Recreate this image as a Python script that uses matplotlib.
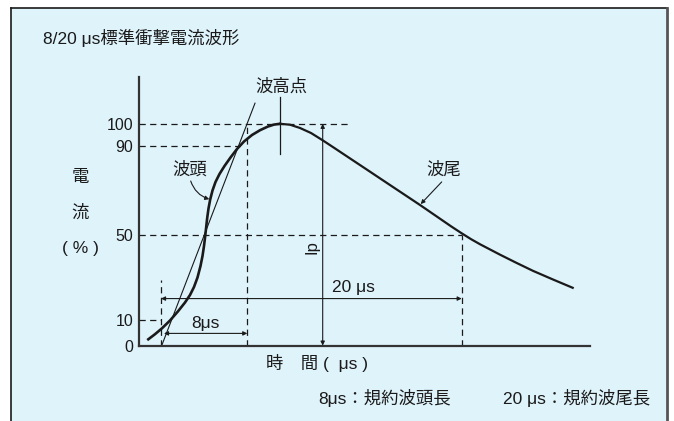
import matplotlib
matplotlib.use("Agg")
import matplotlib.pyplot as plt
from matplotlib.patches import Rectangle
from matplotlib.lines import Line2D

plt.rcParams['font.family'] = ['Liberation Sans', 'Noto Sans CJK JP', 'DejaVu Sans']

# waveform (schematic, time in arbitrary units, current in %)
# front: start -> peak
t_front_wave = [0.93, 1.6, 2.3, 3.1, 3.9, 4.6, 5.1, 5.5, 5.85, 6.15, 6.35, 6.5, 6.62, 6.72,
                6.82, 6.95, 7.12, 7.35, 7.65, 8.05, 8.55, 9.15, 9.8, 10.5, 11.3, 12.1,
                12.9, 13.5, 14.1]
i_front_wave = [2.84, 5.14, 7.80, 11.32, 15.46, 19.43, 22.81, 26.42, 30.70, 35.89, 40.40,
                44.90, 49.41, 53.47, 57.53, 61.81, 65.87, 69.93, 73.76, 77.37, 80.97,
                84.81, 88.64, 92.02, 94.95, 97.11, 98.78, 99.64, 100.0]
# tail: peak -> end
t_tail_wave = [14.1, 15.1, 16.1, 17.2, 18.37, 19.6, 21.1, 22.77, 24.6, 26.4, 28.1, 30.2,
               31.2, 32.27, 33.2, 34.1, 36.1, 37.7, 39.4, 41.4, 43.37]
i_tail_wave = [100.0, 99.59, 98.11, 95.85, 92.56, 88.9, 84.4, 79.4, 73.9, 68.5, 63.4, 56.9,
               53.8, 50.63, 48.0, 45.7, 41.0, 37.4, 33.7, 29.8, 26.06]

# front tangent (virtual origin -> past 100 %)
t_tangent = [2.27, 11.6]
i_tangent = [0, 109.3]

# key times / levels
t_origin = 2.2      # virtual origin O1
t_front = 10.83     # 8 us point
t_tail = 32.27      # 20 us point (half value)
t_peak = 14.1
t_ip = 18.37
level_10 = 11.5     # drawn position of the 10 % level
y_ticks = [0, level_10, 50, 90, 100]
y_labels = ["0", "10", "50", "90", "100"]

ink = "#1a1a1a"
bg = "#dff3fb"
fs = 12.5

fig = plt.figure(figsize=(6.74, 4.21), dpi=100)
W, H = 674, 421

# panel background and frame
fig.patches.append(Rectangle((10.7 / W, 0), (667 - 10.7) / W, 1 - 8 / H,
                             transform=fig.transFigure, facecolor=bg, edgecolor="none", zorder=-5))
fig.lines.append(Line2D([10.7 / W, 10.7 / W], [0, 1 - 8 / H], transform=fig.transFigure, color=ink, lw=1.2))
fig.lines.append(Line2D([10.7 / W, 667 / W], [1 - 8 / H, 1 - 8 / H], transform=fig.transFigure, color=ink, lw=1.2))
fig.lines.append(Line2D([667 / W, 667 / W], [0, 1 - 8 / H], transform=fig.transFigure, color="#555555", lw=2.0))

ax = fig.add_axes([139 / W, (H - 345.6) / H, 451 / W, (345.6 - 77) / H])
ax.set_zorder(3)
ax.set_facecolor("none")
ax.set_xlim(0, 45.1)
ax.set_ylim(0, 121.1)
for s in ["top", "right"]:
    ax.spines[s].set_visible(False)
for s in ["left", "bottom"]:
    ax.spines[s].set_color("#333333")
    ax.spines[s].set_linewidth(1.6)
ax.set_xticks([])
ax.set_yticks(y_ticks)
ax.set_yticklabels(y_labels, fontsize=11.5, color=ink)
ax.tick_params(axis="y", length=0, pad=4)

dash = dict(color=ink, lw=0.9, ls=(0, (5, 3.5)), clip_on=False)
ax.plot([0, 21.1], [100, 100], **dash)
ax.plot([0, 10.1], [90, 90], **dash)
ax.plot([0, t_tail], [50, 50], **dash)
ax.plot([0, t_origin], [level_10, level_10], **dash)
ax.plot([t_origin, t_origin], [0, 29.6], **dash)
ax.plot([t_front, t_front], [0, 100], **dash)
ax.plot([t_tail, t_tail], [0, 50], **dash)

ax.plot(t_tangent, i_tangent, color=ink, lw=0.8, clip_on=False)
ax.plot(t_front_wave, i_front_wave, color=ink, lw=1.9, solid_joinstyle="round", clip_on=False)
ax.plot(t_tail_wave, i_tail_wave, color=ink, lw=1.6, solid_joinstyle="round", clip_on=False)
ax.plot([t_peak, t_peak], [86.4, 112], color=ink, lw=0.9)

arr = dict(arrowstyle="<|-|>", color=ink, lw=0.8, mutation_scale=6, shrinkA=0, shrinkB=0)
ax.annotate("", xy=(t_front, 5.5), xytext=(t_origin + 0.3, 5.5), arrowprops=arr)
ax.annotate("", xy=(t_tail, 21.2), xytext=(t_origin, 21.2), arrowprops=arr)
ax.annotate("", xy=(t_ip, 100), xytext=(t_ip, 0), arrowprops=arr)

ax.text(6.6, 10.0, "8μs", fontsize=fs, color=ink, ha="center", va="center")
ax.text(21.4, 26.0, "20 μs", fontsize=fs, color=ink, ha="center", va="center")
ax.text(17.27, 44.6, "Ip", fontsize=12, color=ink, ha="center", va="center", rotation=90)

ax.text(14.27, 116.9, "波高点", fontsize=fs, color=ink, ha="center", va="center")
ax.text(5.1, 79.2, "波頭", fontsize=fs, color=ink, ha="center", va="center")
ax.annotate("", xy=(7.03, 66.0), xytext=(5.17, 74.2),
            arrowprops=dict(arrowstyle="-|>", color=ink, lw=0.8, mutation_scale=6,
                            shrinkA=0, shrinkB=0, connectionstyle="arc3,rad=0.25"))
ax.text(30.43, 79.2, "波尾", fontsize=fs, color=ink, ha="center", va="center")
ax.annotate("", xy=(28.17, 63.8), xytext=(30.27, 73.8),
            arrowprops=dict(arrowstyle="-|>", color=ink, lw=0.8, mutation_scale=6,
                            shrinkA=0, shrinkB=0))

ax.text(-5.9, 75.6, "電", fontsize=fs, color=ink, ha="center", va="center", clip_on=False)
ax.text(-5.9, 59.8, "流", fontsize=fs, color=ink, ha="center", va="center", clip_on=False)
ax.text(-5.9, 43.8, "( % )", fontsize=fs, color=ink, ha="center", va="center", clip_on=False)
ax.text(12.7, -7.8, "時　間 (  μs )", fontsize=fs, color=ink, ha="left", va="center", clip_on=False)

fig.text(43 / W, 1 - 38 / H, "8/20 μs標準衝撃電流波形", fontsize=fs, color=ink, ha="left", va="center")
fig.text(318 / W, 1 - 398 / H, "8μs：規約波頭長", fontsize=fs, color=ink, ha="left", va="center")
fig.text(503 / W, 1 - 398 / H, "20 μs：規約波尾長", fontsize=fs, color=ink, ha="left", va="center")

fig.savefig("out.png", dpi=100)
